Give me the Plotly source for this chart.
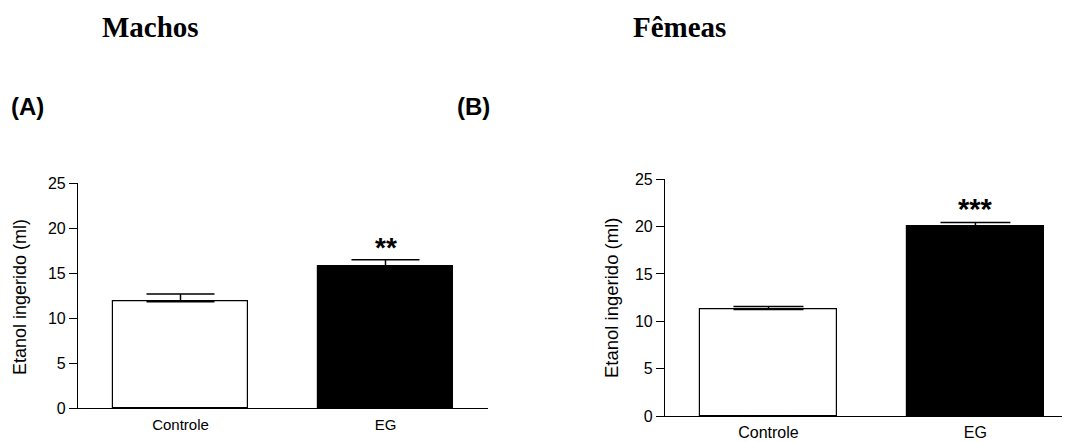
import plotly.graph_objects as go

categories = ["Controle", "EG"]
machos_mean = [11.85, 15.75]
machos_sem = [0.85, 0.75]
femeas_mean = [11.25, 20.0]
femeas_sem = [0.32, 0.45]
machos_sig = ["", "**"]
femeas_sig = ["", "***"]
bar_colors = ["white", "black"]
y_ticks = [0, 5, 10, 15, 20, 25]

# page body adds an 8px margin; lay out in reference-pixel coordinates
OX, OY = 8, 8
W, H = 1070 - OX, 442 - OY

def px_x(p):
    return (p - OX) / W

def px_y(p):
    return 1 - (p - OY) / H

fig = go.Figure()

fig.add_trace(go.Bar(
    x=[0, 1], y=machos_mean, width=0.66,
    marker=dict(color=bar_colors, line=dict(color="black", width=1.2)),
    error_y=dict(type="data", symmetric=False, array=machos_sem, arrayminus=[0, 0],
                 width=34, thickness=1.5, color="black"),
    xaxis="x", yaxis="y", showlegend=False,
))
fig.add_trace(go.Bar(
    x=[0, 1], y=femeas_mean, width=0.66,
    marker=dict(color=bar_colors, line=dict(color="black", width=1.2)),
    error_y=dict(type="data", symmetric=False, array=femeas_sem, arrayminus=[0, 0],
                 width=35, thickness=1.5, color="black"),
    xaxis="x2", yaxis="y2", showlegend=False,
))

axis_common = dict(showgrid=False, zeroline=False, showline=True, linecolor="black",
                   linewidth=1.2, automargin=False)

fig.update_layout(
    width=W, height=H,
    margin=dict(l=0, r=0, t=0, b=0, pad=0),
    paper_bgcolor="white", plot_bgcolor="white",
    font=dict(family="Liberation Sans, Arial", color="black"),
    bargap=0,
    xaxis=dict(domain=[px_x(78), px_x(488)], range=[-0.5, 1.5], tickmode="array",
               tickvals=[0, 1], ticktext=categories, ticks="",
               tickfont=dict(size=15), ticklabelstandoff=3, anchor="y", **axis_common),
    yaxis=dict(domain=[px_y(408.3), px_y(183.3)], range=[0, 25], tickmode="array",
               tickvals=y_ticks, ticks="outside", ticklen=8, tickwidth=1.2,
               tickcolor="black", tickfont=dict(size=16), anchor="x", **axis_common),
    xaxis2=dict(domain=[px_x(665), 1.0], range=[-0.5, 1.457], tickmode="array",
                tickvals=[0, 1], ticktext=categories, ticks="",
                tickfont=dict(size=16), ticklabelstandoff=2, anchor="y2", **axis_common),
    yaxis2=dict(domain=[px_y(416), px_y(179.3)], range=[0, 25], tickmode="array",
                tickvals=y_ticks, ticks="outside", ticklen=8, tickwidth=1.2,
                tickcolor="black", tickfont=dict(size=16), anchor="x2", **axis_common),
)

def paper_ann(text, x, y, size, family=None, angle=0):
    f = dict(size=size)
    if family:
        f["family"] = family
    return dict(text=text, x=px_x(x), y=px_y(y), xref="paper", yref="paper",
                xanchor="center", yanchor="middle", textangle=angle,
                showarrow=False, font=f)

serif = "Liberation Serif, Times New Roman"
annotations = [
    paper_ann("<b>Machos</b>", 150, 27, 29, serif),
    paper_ann("<b>Fêmeas</b>", 679, 27, 29, serif),
    paper_ann("<b>(A)</b>", 27, 107, 24),
    paper_ann("<b>(B)</b>", 473, 107, 24),
    paper_ann("Etanol ingerido (ml)", 20, 297, 18, angle=-90),
    paper_ann("Etanol ingerido (ml)", 611, 298, 18.5, angle=-90),
]

for i, s in enumerate(machos_sig):
    if s:
        annotations.append(dict(text="<b>" + s + "</b>", x=i, y=machos_mean[i] + machos_sem[i],
                                xref="x", yref="y", xanchor="center", yanchor="bottom", yshift=-5,
                                showarrow=False, font=dict(size=28)))
for i, s in enumerate(femeas_sig):
    if s:
        annotations.append(dict(text="<b>" + s + "</b>", x=i, y=femeas_mean[i] + femeas_sem[i],
                                xref="x2", yref="y2", xanchor="center", yanchor="bottom", yshift=-5,
                                showarrow=False, font=dict(size=29)))

fig.update_layout(annotations=annotations)

fig.write_html("out.html")
